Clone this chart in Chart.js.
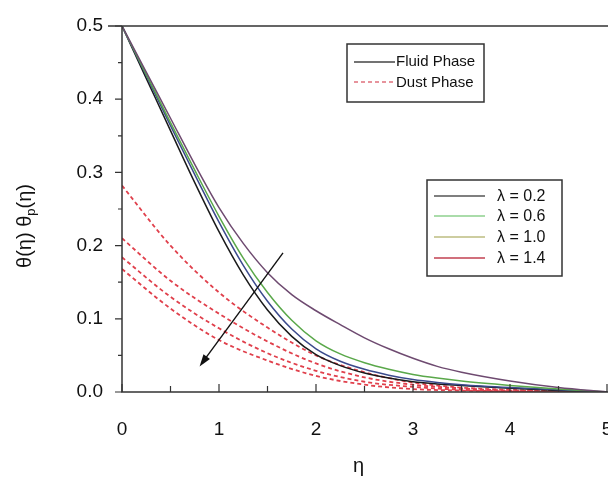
<!DOCTYPE html>
<html>
<head>
<meta charset="utf-8">
<script src="https://cdn.jsdelivr.net/npm/chart.js@4.4.0/dist/chart.umd.min.js"></script>
<style>
  html, body { margin: 0; padding: 0; background: #fff; overflow: hidden; }
  #wrap { width: 608px; height: 479px; position: relative; }
</style>
</head>
<body>
<div id="wrap"><canvas id="myChart"></canvas></div>
<script>
// eta grid for the fluid phase curves and the dust phase curves
var etaFluid = [0, 0.25, 0.5, 0.75, 1, 1.25, 1.5, 1.75, 2, 2.25, 2.5, 2.75, 3, 3.25, 3.5, 4, 4.5, 5];
var etaDust = [0, 0.5, 1, 1.5, 2, 2.5, 3, 3.5, 4, 4.5, 5];

// fluid phase theta(eta), solid lines
var fluidBlack = [0.5, 0.4285, 0.357, 0.286, 0.219, 0.160, 0.112, 0.076, 0.051, 0.036, 0.026, 0.019, 0.014, 0.011, 0.009, 0.005, 0.002, 0];
var fluidBlue = [0.5, 0.432, 0.364, 0.297, 0.232, 0.173, 0.124, 0.086, 0.059, 0.042, 0.031, 0.023, 0.017, 0.013, 0.010, 0.006, 0.003, 0];
var fluidGreen = [0.5, 0.434, 0.368, 0.303, 0.240, 0.183, 0.136, 0.098, 0.070, 0.052, 0.040, 0.031, 0.024, 0.019, 0.015, 0.009, 0.004, 0];
var fluidPurple = [0.5, 0.437, 0.374, 0.311, 0.252, 0.203, 0.163, 0.133, 0.111, 0.092, 0.074, 0.059, 0.046, 0.035, 0.027, 0.015, 0.006, 0];

// dust phase theta_p(eta), dashed lines
var dust1 = [0.282, 0.200, 0.136, 0.088, 0.050, 0.027, 0.013, 0.006, 0.003, 0.001, 0];
var dust2 = [0.210, 0.152, 0.107, 0.069, 0.039, 0.020, 0.010, 0.005, 0.002, 0.001, 0];
var dust3 = [0.184, 0.130, 0.087, 0.053, 0.029, 0.014, 0.007, 0.003, 0.001, 0, 0];
var dust4 = [0.168, 0.114, 0.071, 0.043, 0.022, 0.010, 0.004, 0.002, 0.001, 0, 0];

var lambdaLabels = ['λ = 0.2', 'λ = 0.6', 'λ = 1.0', 'λ = 1.4'];
var phaseLabels = ['Fluid Phase', 'Dust Phase'];
var xTicks = [0, 1, 2, 3, 4, 5];
var yTicks = [0, 0.1, 0.2, 0.3, 0.4, 0.5];

// arrow showing increasing lambda (data coordinates)
var arrowFrom = [1.66, 0.19];
var arrowTo = [0.80, 0.035];

function pts(xs, ys) {
  return xs.map(function (x, i) { return { x: x, y: ys[i] }; });
}

var FONT = '"Liberation Sans", Arial, sans-serif';
var DUST_RED = '#e0404c';

function fluidSet(label, ys, color) {
  return {
    label: label, data: pts(etaFluid, ys), borderColor: color,
    borderWidth: 1.5, pointRadius: 0, cubicInterpolationMode: 'monotone', fill: false
  };
}
function dustSet(label, ys) {
  return {
    label: label, data: pts(etaDust, ys), borderColor: DUST_RED,
    borderWidth: 1.8, borderDash: [4, 3], pointRadius: 0, cubicInterpolationMode: 'monotone', fill: false
  };
}

var data = {
  datasets: [
    fluidSet(lambdaLabels[0], fluidPurple, '#6e4a70'),
    fluidSet(lambdaLabels[1], fluidGreen, '#5aa84a'),
    fluidSet(lambdaLabels[2], fluidBlue, '#3b4a8c'),
    fluidSet(lambdaLabels[3], fluidBlack, '#1a1a1a'),
    dustSet(lambdaLabels[0], dust1),
    dustSet(lambdaLabels[1], dust2),
    dustSet(lambdaLabels[2], dust3),
    dustSet(lambdaLabels[3], dust4)
  ]
};

// frame, ticks, axis titles, legend boxes and arrow
var extras = {
  id: 'extras',
  afterDraw: function (chart) {
    var c = chart.ctx, a = chart.chartArea;
    var xs = chart.scales.x, ys = chart.scales.y;
    c.save();
    c.strokeStyle = '#333';
    c.lineWidth = 1.5;
    // axes + top line
    c.beginPath();
    c.moveTo(a.left, a.top); c.lineTo(a.left, a.bottom); c.lineTo(a.right + 2, a.bottom);
    c.moveTo(a.left - 14, a.top); c.lineTo(a.right + 2, a.top);
    c.stroke();
    // x ticks (inward)
    c.lineWidth = 1.2;
    c.beginPath();
    for (var v = 0; v <= 5.001; v += 0.5) {
      var px = xs.getPixelForValue(v);
      var len = Math.abs(v - Math.round(v)) < 0.01 ? 8 : 6;
      c.moveTo(px, a.bottom); c.lineTo(px, a.bottom - len);
    }
    // y ticks (outward)
    for (var w = 0; w <= 0.5001; w += 0.05) {
      var py = ys.getPixelForValue(w);
      var l2 = Math.abs(w * 10 - Math.round(w * 10)) < 0.01 ? 7 : 4;
      c.moveTo(a.left, py); c.lineTo(a.left - l2, py);
    }
    c.stroke();

    // arrow
    var x0 = xs.getPixelForValue(arrowFrom[0]), y0 = ys.getPixelForValue(arrowFrom[1]);
    var x1 = xs.getPixelForValue(arrowTo[0]), y1 = ys.getPixelForValue(arrowTo[1]);
    var ang = Math.atan2(y1 - y0, x1 - x0);
    c.strokeStyle = '#111'; c.fillStyle = '#111'; c.lineWidth = 1.4;
    c.beginPath(); c.moveTo(x0, y0);
    c.lineTo(x1 - 8 * Math.cos(ang), y1 - 8 * Math.sin(ang)); c.stroke();
    c.beginPath();
    c.moveTo(x1, y1);
    c.lineTo(x1 - 12 * Math.cos(ang) + 4 * Math.sin(ang), y1 - 12 * Math.sin(ang) - 4 * Math.cos(ang));
    c.lineTo(x1 - 12 * Math.cos(ang) - 4 * Math.sin(ang), y1 - 12 * Math.sin(ang) + 4 * Math.cos(ang));
    c.closePath(); c.fill();

    // axis titles
    c.fillStyle = '#111';
    c.font = '20px ' + FONT;
    c.textAlign = 'center'; c.textBaseline = 'middle';
    c.fillText('η', (a.left + a.right) / 2 - 6, 466);

    c.save();
    c.translate(24, 226);
    c.rotate(-Math.PI / 2);
    c.font = '20px ' + FONT;
    var p1 = 'θ(η) θ', p2 = 'p', p3 = '(η)';
    var w1 = c.measureText(p1).width, w3 = c.measureText(p3).width;
    c.font = '13px ' + FONT;
    var w2 = c.measureText(p2).width;
    var start = -(w1 + w2 + w3) / 2;
    c.textAlign = 'left'; c.textBaseline = 'alphabetic';
    c.font = '20px ' + FONT;
    c.fillText(p1, start, 7);
    c.font = '13px ' + FONT;
    c.fillText(p2, start + w1, 11);
    c.font = '20px ' + FONT;
    c.fillText(p3, start + w1 + w2, 7);
    c.restore();

    // legend box 1
    c.strokeStyle = '#333'; c.lineWidth = 1.5;
    c.strokeRect(347, 44, 137, 58);
    c.strokeStyle = '#444';
    c.beginPath(); c.moveTo(354, 62); c.lineTo(395, 62); c.stroke();
    c.strokeStyle = '#e0707c'; c.setLineDash([4, 3]);
    c.beginPath(); c.moveTo(354, 82); c.lineTo(395, 82); c.stroke();
    c.setLineDash([]);
    c.fillStyle = '#111'; c.font = '15px ' + FONT; c.textAlign = 'left'; c.textBaseline = 'middle';
    c.fillText(phaseLabels[0], 396, 62);
    c.fillText(phaseLabels[1], 396, 83);

    // legend box 2
    c.strokeStyle = '#333';
    c.strokeRect(427, 180, 135, 96);
    var legCols = ['#555555', '#8ed08e', '#bdbd80', '#c24050'];
    var legY = [196, 216, 237, 258];
    c.font = '16px ' + FONT;
    for (var i = 0; i < 4; i++) {
      c.strokeStyle = legCols[i]; c.lineWidth = 1.6;
      c.beginPath(); c.moveTo(434, legY[i]); c.lineTo(485, legY[i]); c.stroke();
      c.fillStyle = '#111';
      c.fillText(lambdaLabels[i], 497, legY[i] + 1);
    }
    c.restore();
  }
};

var options = {
  responsive: true,
  maintainAspectRatio: false,
  animation: false,
  layout: { padding: { top: 26, right: 1, left: 0, bottom: 0 } },
  plugins: { legend: { display: false }, tooltip: { enabled: false } },
  scales: {
    x: {
      type: 'linear', min: 0, max: 5,
      grid: { display: false, drawTicks: false },
      border: { display: false },
      afterBuildTicks: function (s) { s.ticks = xTicks.map(function (v) { return { value: v }; }); },
      ticks: { padding: 26, color: '#111', font: { family: FONT, size: 19 }, maxRotation: 0,
        callback: function (v) { return String(v); } },
      afterFit: function (s) { s.height = 87; s.paddingLeft = 0; s.paddingRight = 0; }
    },
    y: {
      type: 'linear', min: 0, max: 0.5,
      grid: { display: false, drawTicks: false },
      border: { display: false },
      afterBuildTicks: function (s) { s.ticks = yTicks.map(function (v) { return { value: v }; }); },
      ticks: { padding: 19, color: '#111', font: { family: FONT, size: 19 },
        callback: function (v) { return v.toFixed(1); } },
      afterFit: function (s) { s.width = 122; s.paddingTop = 0; s.paddingBottom = 0; }
    }
  }
};

var ctx = document.getElementById('myChart').getContext('2d');
var myChart = new Chart(ctx, { type: 'line', data: data, options: options, plugins: [extras] });
</script>
</body>
</html>
